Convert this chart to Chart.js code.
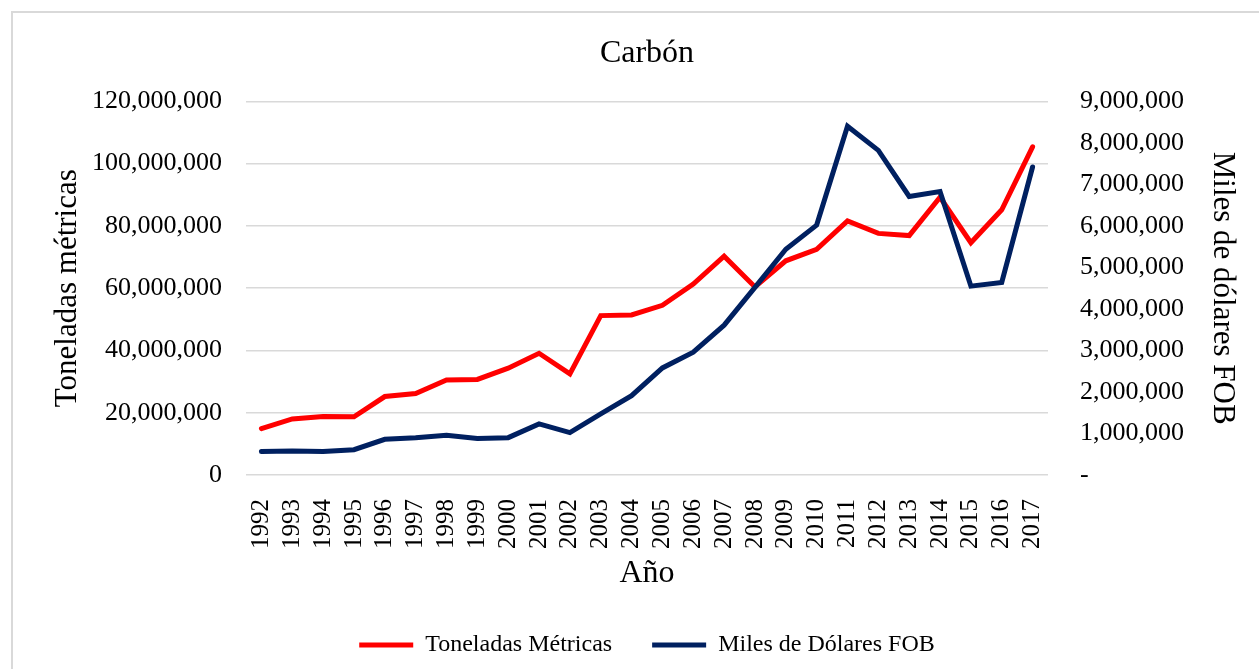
<!DOCTYPE html>
<html>
<head>
<meta charset="utf-8">
<script src="https://cdn.jsdelivr.net/npm/chart.js@4.4.0/dist/chart.umd.min.js"></script>
<style>
  html, body { margin: 0; padding: 0; background: #fff; }
  #frame { position: absolute; left: 11px; top: 11px; width: 1400px; height: 800px;
           border-left: 2px solid #d9d9d9; border-top: 2px solid #d9d9d9; }
  #wrap { position: absolute; left: 0; top: 0; width: 1259px; height: 669px; }
</style>
</head>
<body>
<div id="frame"></div>
<div id="wrap"><canvas id="myChart"></canvas></div>
<script>
// Years on the x axis
var years = ['1992', '1993', '1994', '1995', '1996', '1997', '1998', '1999', '2000', '2001',
             '2002', '2003', '2004', '2005', '2006', '2007', '2008', '2009', '2010', '2011',
             '2012', '2013', '2014', '2015', '2016', '2017'];

// Toneladas metricas (left axis)
var toneladas = [14900000, 18000000, 18800000, 18700000, 25200000, 26200000, 30500000, 30700000,
                 34300000, 39100000, 32500000, 51200000, 51400000, 54500000, 61300000, 70300000,
                 60400000, 68800000, 72500000, 81600000, 77600000, 76900000, 89200000, 74600000,
                 85200000, 105400000];

// Miles de dolares FOB (right axis)
var milesFob = [564000, 580000, 564000, 610000, 860000, 900000, 960000, 880000, 900000, 1230000,
                1020000, 1470000, 1910000, 2580000, 2960000, 3610000, 4520000, 5440000, 6020000,
                8400000, 7820000, 6710000, 6830000, 4550000, 4640000, 7420000];

var serif = "'Liberation Serif', 'Times New Roman', serif";
var fmt = function (v) { return Number(v).toLocaleString('en-US'); };

var ctx = document.getElementById('myChart').getContext('2d');
var myChart = new Chart(ctx, {
    type: 'line',
    data: {
        labels: years,
        datasets: [{
            label: 'Toneladas Métricas',
            data: toneladas,
            yAxisID: 'y',
            borderColor: '#ff0000',
            backgroundColor: '#ff0000',
            borderWidth: 5,
            borderCapStyle: 'round',
            pointRadius: 0,
            tension: 0,
            order: 1
        }, {
            label: 'Miles de Dólares FOB',
            data: milesFob,
            yAxisID: 'y1',
            borderColor: '#002060',
            backgroundColor: '#002060',
            borderWidth: 5,
            borderCapStyle: 'round',
            pointRadius: 0,
            tension: 0,
            order: 0
        }]
    },
    options: {
        responsive: true,
        maintainAspectRatio: false,
        animation: false,
        layout: { padding: { left: 0, right: 0, top: 0, bottom: 2 } },
        plugins: {
            title: {
                display: true,
                text: 'Carbón',
                color: '#000',
                fullSize: false,
                font: { family: serif, size: 32, weight: 'normal', lineHeight: 1.2 },
                padding: { top: 34, bottom: 29 }
            },
            legend: {
                position: 'bottom',
                fullSize: false,
                labels: {
                    color: '#000',
                    font: { family: serif, size: 24 },
                    usePointStyle: true,
                    pointStyle: 'line',
                    pointStyleWidth: 54,
                    padding: 40,
                    sort: function (a, b) { return a.datasetIndex - b.datasetIndex; }
                }
            },
            tooltip: { enabled: false }
        },
        scales: {
            x: {
                offset: true,
                grid: { display: false },
                border: { display: false },
                ticks: {
                    color: '#000',
                    font: { family: serif, size: 25 },
                    autoSkip: false,
                    maxRotation: 90,
                    minRotation: 90,
                    padding: 16
                },
                title: {
                    display: true,
                    text: 'Año',
                    color: '#000',
                    font: { family: serif, size: 32 },
                    padding: { top: 0, bottom: 0 }
                },
                afterFit: function (scale) { scale.height = 118; }
            },
            y: {
                position: 'left',
                min: 0,
                max: 120000000,
                grid: { color: '#d9d9d9', lineWidth: 1.5, drawTicks: false },
                border: { display: false },
                ticks: {
                    stepSize: 20000000,
                    color: '#000',
                    font: { family: serif, size: 26 },
                    padding: 24,
                    callback: function (v) { return fmt(v); }
                },
                title: {
                    display: true,
                    text: 'Toneladas métricas',
                    color: '#000',
                    font: { family: serif, size: 31 },
                    padding: { top: 49, bottom: 0 }
                },
                afterFit: function (scale) { scale.width = 246; }
            },
            y1: {
                position: 'right',
                min: 0,
                max: 9000000,
                grid: { display: false, drawTicks: false },
                border: { display: false },
                ticks: {
                    stepSize: 1000000,
                    color: '#000',
                    font: { family: serif, size: 26 },
                    padding: 32,
                    callback: function (v) { return v === 0 ? '-' : fmt(v); }
                },
                title: {
                    display: true,
                    text: 'Miles de dólares FOB',
                    color: '#000',
                    font: { family: serif, size: 31 },
                    padding: { top: 18, bottom: 0 }
                },
                afterFit: function (scale) { scale.width = 211; }
            }
        }
    }
});
</script>
</body>
</html>
